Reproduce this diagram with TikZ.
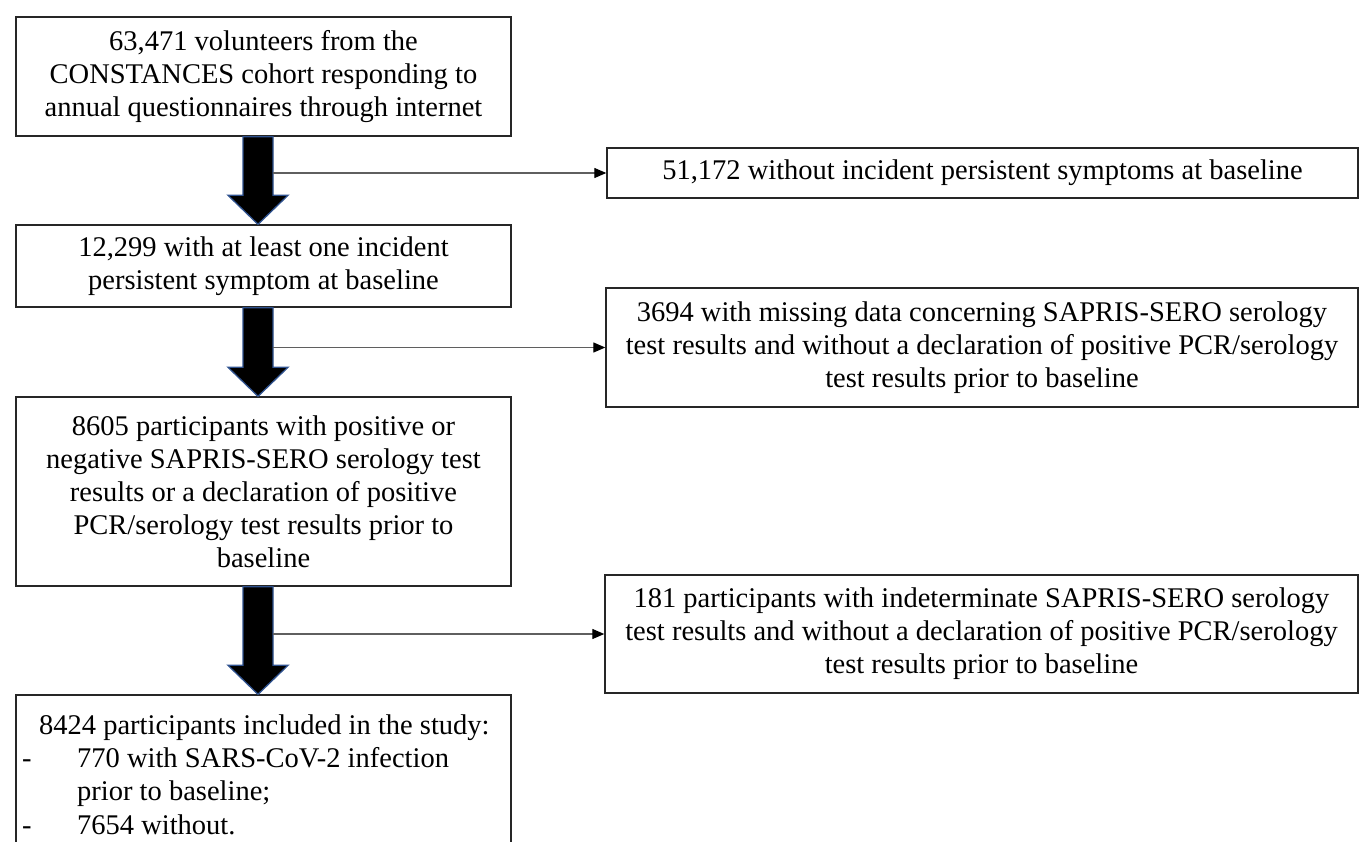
\documentclass[tikz,border=0pt]{standalone}
\usepackage{fontspec}
\setmainfont{Liberation Serif}
\usetikzlibrary{arrows.meta,calc}
\definecolor{arrowblue}{RGB}{47,82,143}
\definecolor{conngray}{RGB}{95,95,95}
\tikzset{
  box/.style={draw=black!85, line width=1.4pt, rectangle, inner sep=0pt, align=center,
              font=\fontsize{28.5}{33}\selectfont},
  txt/.style={inner sep=0pt, font=\fontsize{28.5}{33}\selectfont},
  fatarrow/.style={fill=black, draw=arrowblue, line width=1.3pt, line join=miter},
  conn/.style={draw=conngray, line width=1.3pt, -{Triangle[length=12pt,width=10pt,fill=black,color=black]}}
}
\newcommand\fatarrowdraw[2]{%
  \draw[fatarrow] let \p1=(#1.south), \p2=(#2.north) in
    (\x1-20.5pt,\y1) -- (\x1+9.5pt,\y1) -- (\x1+9.5pt,\y2+29pt) -- (\x1+24.5pt,\y2+29pt)
    -- (\x1-5.5pt,\y2) -- (\x1-35.5pt,\y2+29pt) -- (\x1-20.5pt,\y2+29pt) -- cycle;}
\begin{document}
\begin{tikzpicture}[x=1pt,y=-1pt]
\useasboundingbox (0,0) rectangle (1360,841);
\clip (0,0) rectangle (1360,841);
\fill[white] (0,0) rectangle (1360,841);

% left column
\node[box, minimum width=495pt, minimum height=119pt] (b1) at (263.5,76.5)
  {\raisebox{-3pt}{\parbox{480pt}{\centering 63,471 volunteers from the\\ CONSTANCES cohort responding to\\ annual questionnaires through internet}}};
\node[box, minimum width=495pt, minimum height=82pt] (b2) at (263.5,266)
  {\raisebox{-3pt}{\parbox{480pt}{\centering 12,299 with at least one incident\\ persistent symptom at baseline}}};
\node[box, minimum width=495pt, minimum height=189pt] (b3) at (263.5,491.5)
  {\raisebox{-1pt}{\parbox{480pt}{\centering 8605 participants with positive or\\ negative SAPRIS-SERO serology test\\ results or a declaration of positive\\ PCR/serology test results prior to\\ baseline}}};
\node[box, minimum width=495pt, minimum height=175pt] (b4) at (263.5,782.5) {};
\node[txt, anchor=base west] (l1) at (39,734) {8424 participants included in the study:};
\node[txt, anchor=base west] (d1) at (22,767) {-};
\node[txt, anchor=base west] (l2) at (77,767) {770 with SARS-CoV-2 infection};
\node[txt, anchor=base west] (l3) at (77,800) {prior to baseline;};
\node[txt, anchor=base west] (d2) at (22,834) {-};
\node[txt, anchor=base west] (l4) at (77,834) {7654 without.};

% right column
\node[box, minimum width=751pt, minimum height=50pt] (r1) at (982.5,173)
  {51,172 without incident persistent symptoms at baseline};
\node[box, minimum width=752pt, minimum height=119pt] (r2) at (982,347.5)
  {3694 with missing data concerning SAPRIS-SERO serology\\ test results and without a declaration of positive PCR/serology\\ test results prior to baseline};
\node[box, minimum width=753pt, minimum height=118pt] (r3) at (981.5,634)
  {181 participants with indeterminate SAPRIS-SERO serology\\ test results and without a declaration of positive PCR/serology\\ test results prior to baseline};

% fat arrows
\fatarrowdraw{b1}{b2}
\fatarrowdraw{b2}{b3}
\fatarrowdraw{b3}{b4}

% thin connectors
\coordinate (sh) at (273,0);
\draw[conn] (sh |- r1.west) -- (r1.west);
\draw[conn] (sh |- r2.west) -- (r2.west);
\draw[conn] (sh |- r3.west) -- (r3.west);
\end{tikzpicture}
\end{document}
